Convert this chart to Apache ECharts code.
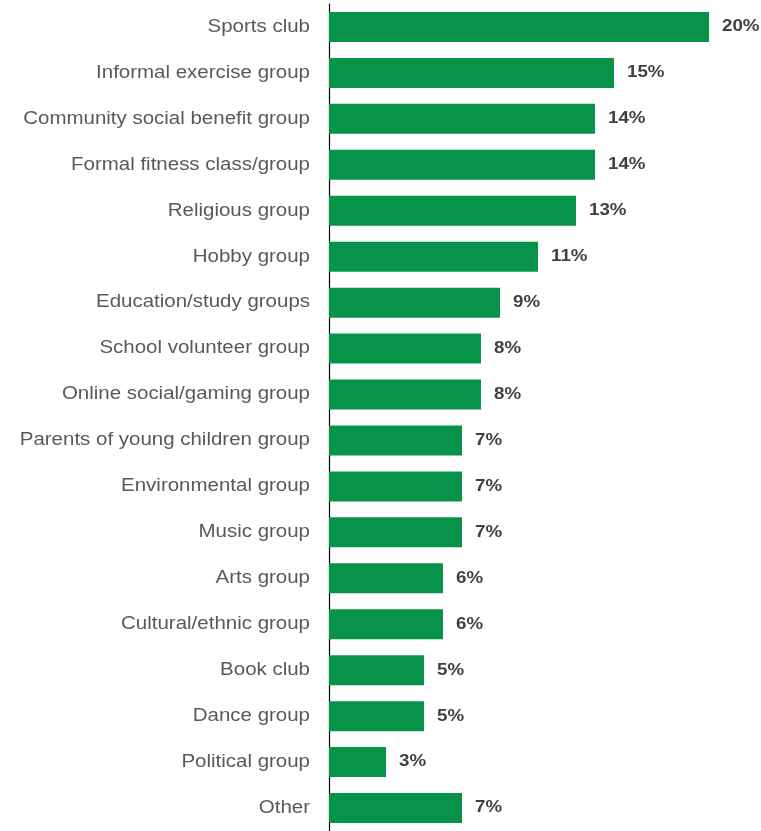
<!DOCTYPE html>
<html>
<head>
<meta charset="utf-8">
<script src="https://cdn.jsdelivr.net/npm/echarts@6/dist/echarts.min.js"></script>
<style>
  html, body { margin: 0; padding: 0; background: #ffffff; }
  #chart { width: 761px; height: 831px; }
</style>
</head>
<body>
<div id="chart"></div>
<script>
// Group types, top to bottom
const categories = [
  'Sports club',
  'Informal exercise group',
  'Community social benefit group',
  'Formal fitness class/group',
  'Religious group',
  'Hobby group',
  'Education/study groups',
  'School volunteer group',
  'Online social/gaming group',
  'Parents of young children group',
  'Environmental group',
  'Music group',
  'Arts group',
  'Cultural/ethnic group',
  'Book club',
  'Dance group',
  'Political group',
  'Other'
];

// Share of respondents (%)
const shares = [20, 15, 14, 14, 13, 11, 9, 8, 8, 7, 7, 7, 6, 6, 5, 5, 3, 7];

// Wide lettering: draw and measure all canvas text stretched horizontally
const TEXT_STRETCH = 1.17;
(function () {
  const proto = CanvasRenderingContext2D.prototype;
  const fill = proto.fillText;
  const stroke = proto.strokeText;
  const measure = proto.measureText;
  proto.fillText = function (t, x, y, maxW) {
    this.save();
    this.translate(x, y);
    this.scale(TEXT_STRETCH, 1);
    maxW === undefined ? fill.call(this, t, 0, 0) : fill.call(this, t, 0, 0, maxW / TEXT_STRETCH);
    this.restore();
  };
  proto.strokeText = function (t, x, y, maxW) {
    this.save();
    this.translate(x, y);
    this.scale(TEXT_STRETCH, 1);
    maxW === undefined ? stroke.call(this, t, 0, 0) : stroke.call(this, t, 0, 0, maxW / TEXT_STRETCH);
    this.restore();
  };
  proto.measureText = function (t) {
    const m = measure.call(this, t);
    return {
      width: m.width * TEXT_STRETCH,
      actualBoundingBoxLeft: m.actualBoundingBoxLeft * TEXT_STRETCH,
      actualBoundingBoxRight: m.actualBoundingBoxRight * TEXT_STRETCH,
      actualBoundingBoxAscent: m.actualBoundingBoxAscent,
      actualBoundingBoxDescent: m.actualBoundingBoxDescent,
      fontBoundingBoxAscent: m.fontBoundingBoxAscent,
      fontBoundingBoxDescent: m.fontBoundingBoxDescent
    };
  };
})();

const chart = echarts.init(document.getElementById('chart'), null, { renderer: 'canvas' });

chart.setOption({
  animation: false,
  grid: { left: 329, top: 4, width: 380, height: 828, containLabel: false },
  xAxis: {
    type: 'value',
    min: 0,
    max: 20,
    show: false
  },
  yAxis: {
    type: 'category',
    inverse: true,
    data: categories,
    axisLine: { show: true, lineStyle: { color: '#000000', width: 1.2 } },
    axisTick: { show: false },
    axisLabel: {
      color: '#595959',
      fontFamily: 'Liberation Sans, Arial, sans-serif',
      fontSize: 17.5,
      margin: 19
    }
  },
  series: [{
    type: 'bar',
    data: shares,
    barWidth: 30,
    itemStyle: { color: '#08934A' },
    label: {
      show: true,
      position: 'right',
      distance: 13,
      formatter: p => p.value + '%',
      color: '#404040',
      fontWeight: 'bold',
      fontFamily: 'Liberation Sans, Arial, sans-serif',
      fontSize: 16
    }
  }]
});
</script>
</body>
</html>
